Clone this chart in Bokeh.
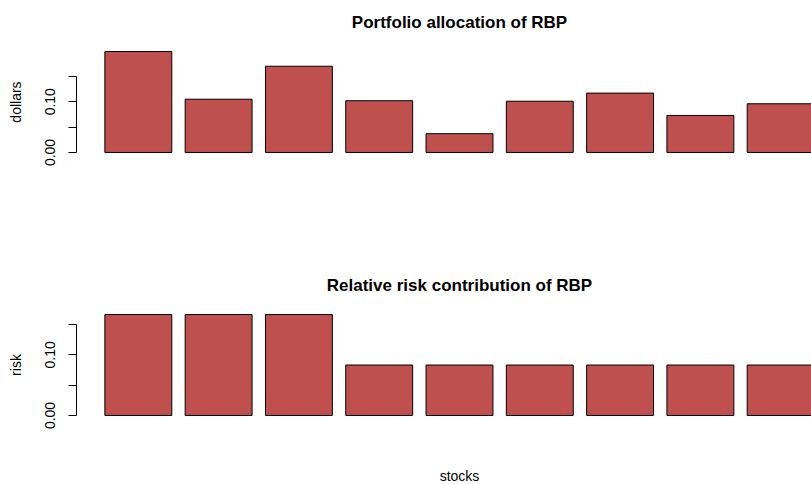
from bokeh.plotting import figure
from bokeh.models import FixedTicker, Range1d, Label
from bokeh.layouts import column
from bokeh.embed import file_html
from bokeh.resources import INLINE

# ---- data ----
stocks = ["S1", "S2", "S3", "S4", "S5", "S6", "S7", "S8", "S9"]
weights = [0.199, 0.105, 0.170, 0.102, 0.037, 0.101, 0.117, 0.073, 0.096]
risk_contrib = [0.1667, 0.1667, 0.1667, 0.0833, 0.0833, 0.0833, 0.0833, 0.0833, 0.0833]
y_ticks = [0.00, 0.05, 0.10, 0.15]
y_tick_labels = ["0.00", "", "0.10", ""]
title_top = "Portfolio allocation of RBP"
title_bottom = "Relative risk contribution of RBP"
ylab_top = "dollars"
ylab_bottom = "risk"
xlab = "stocks"

# ---- layout constants ----
FONT = "Liberation Sans"
BAR_FILL = "#C0504D"
PAGE_W = 811
LEFT = 76
PLOT_H = 109          # height of the (R-style) plotting region
REF_PLOT_W = 766.0    # full width of the R-style plotting region

n = len(stocks)
bar_w = 1.0
space = 0.2
centers = [space * (i + 1) + bar_w * i + bar_w / 2 for i in range(n)]
full_lo = space - 0.04 * (n * (bar_w + space) - space)
full_hi = n * (bar_w + space) + 0.04 * (n * (bar_w + space) - space)
frame_w = PAGE_W - LEFT
x_hi = full_lo + (full_hi - full_lo) * frame_w / REF_PLOT_W
x_mid = (full_lo + full_hi) / 2


def make_panel(values, ylabel, title, height, top_border, frame_h,
               title_gap, xlabel=None, xlabel_gap=None):
    vmax = max(values)
    y0, y1 = -0.04 * vmax, 1.04 * vmax
    ppu = PLOT_H / (y1 - y0)
    c = (y0 + y1) / 2
    half = frame_h / 2 / ppu
    p = figure(width=PAGE_W, height=height, output_backend="svg",
               toolbar_location=None, x_range=Range1d(full_lo, x_hi),
               y_range=Range1d(c - half, c + half),
               min_border_left=LEFT, min_border_right=0,
               min_border_top=top_border,
               min_border_bottom=height - top_border - frame_h)
    p.vbar(x=centers, top=values, bottom=0, width=bar_w,
           fill_color=BAR_FILL, line_color="black", line_width=1)
    p.xaxis.visible = False
    p.grid.visible = False
    p.outline_line_color = None
    ax = p.yaxis[0]
    ax.ticker = FixedTicker(ticks=y_ticks)
    ax.major_label_overrides = {t: l for t, l in zip(y_ticks, y_tick_labels)}
    ax.bounds = (y_ticks[0], y_ticks[-1])
    ax.minor_tick_line_color = None
    ax.major_tick_out = 8
    ax.major_tick_in = 0
    ax.axis_line_color = "black"
    ax.major_tick_line_color = "black"
    ax.major_label_orientation = "vertical"
    ax.major_label_text_font = FONT
    ax.major_label_text_font_size = "14px"
    ax.major_label_text_color = "black"
    ax.major_label_standoff = 13
    ax.axis_label = ylabel
    ax.axis_label_text_font = FONT
    ax.axis_label_text_font_size = "14px"
    ax.axis_label_text_font_style = "normal"
    ax.axis_label_text_color = "black"
    ax.axis_label_standoff = 19
    p.add_layout(Label(x=x_mid, y=y1 + title_gap / ppu, text=title,
                       text_align="center", text_baseline="alphabetic",
                       text_font=FONT, text_font_size="17px",
                       text_font_style="bold", text_color="black"))
    if xlabel:
        p.add_layout(Label(x=x_mid, y=y0 - xlabel_gap / ppu, text=xlabel,
                           text_align="center", text_baseline="middle",
                           text_font=FONT, text_font_size="14px",
                           text_color="black"))
    return p


# top panel: frame centred on the plotting region (page y 47..156)
p1 = make_panel(weights, ylab_top, title_top, 203, 0, 203, 25.3)
# bottom panel: plotting region page y 310..419, frame 245..484
p2 = make_panel(risk_contrib, ylab_bottom, title_bottom, 281, 42, 239, 25.3,
                xlabel=xlab, xlabel_gap=56)

layout = column(p1, p2, spacing=0)
open("out.html", "w").write(file_html(layout, INLINE))
